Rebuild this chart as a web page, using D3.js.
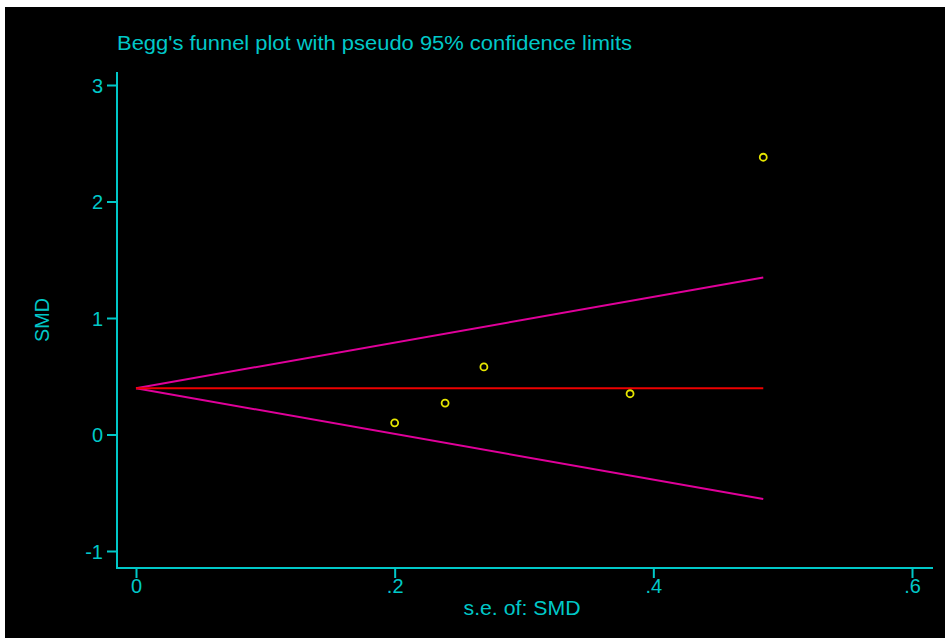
<!DOCTYPE html>
<html>
<head>
<meta charset="utf-8">
<script src="https://cdn.jsdelivr.net/npm/d3@7"></script>
<style>
  body { margin: 0; background: #fff; }
  text { font-family: "Liberation Sans", Arial, sans-serif; }
</style>
</head>
<body>
<div id="chart"></div>
<script>
// study estimates
const seValues = [0.200, 0.239, 0.269, 0.382, 0.485];
const smdValues = [0.10, 0.27, 0.58, 0.35, 2.38];

// pooled estimate and pseudo 95% limits at the two ends of the funnel
const funnelSe = [0, 0.485];
const pooledLine = [0.397, 0.397];
const upperLimit = [0.397, 1.348];
const lowerLimit = [0.397, -0.554];

const xTicks = [0, 0.2, 0.4, 0.6];
const yTicks = [-1, 0, 1, 2, 3];

const W = 945, H = 638;
const cyan = "#00c8c8";

const svg = d3.select("#chart").append("svg")
  .attr("width", W)
  .attr("height", H);

// black plot region, small white border top/left
svg.append("rect")
  .attr("x", 5).attr("y", 7)
  .attr("width", W - 5).attr("height", H - 7)
  .attr("fill", "#000");

const x = d3.scaleLinear().domain([0, 0.6]).range([136, 912]);
const y = d3.scaleLinear().domain([-1, 3]).range([551, 85]);

// axes
const xaxis = svg.append("g")
  .attr("transform", "translate(0,568)")
  .call(d3.axisBottom(x).tickValues(xTicks).tickSize(10).tickSizeOuter(0)
    .tickFormat(d => d === 0 ? "0" : d3.format(".1f")(d).replace(/^0/, "")));
xaxis.select(".domain").remove();
svg.append("line")
  .attr("x1", 117).attr("x2", 933)
  .attr("y1", 568).attr("y2", 568)
  .attr("stroke", cyan).attr("stroke-width", 2);

const yaxis = svg.append("g")
  .attr("transform", "translate(117,0)")
  .call(d3.axisLeft(y).tickValues(yTicks).tickSize(10).tickSizeOuter(0)
    .tickFormat(d => String(d)));
yaxis.select(".domain").remove();
svg.append("line")
  .attr("x1", 117).attr("x2", 117)
  .attr("y1", 72).attr("y2", 569)
  .attr("stroke", cyan).attr("stroke-width", 2);

svg.selectAll(".tick line").attr("stroke", cyan).attr("stroke-width", 2);
svg.selectAll(".tick text")
  .attr("fill", cyan)
  .attr("font-size", 20)
  .attr("font-family", "Liberation Sans, Arial, sans-serif");
yaxis.selectAll(".tick text").attr("x", -14).attr("dy", "0.36em");
xaxis.selectAll(".tick text").attr("y", 11);

// titles
svg.append("text")
  .attr("x", 117).attr("y", 50)
  .attr("fill", cyan)
  .attr("font-size", 20)
  .attr("textLength", 515)
  .attr("lengthAdjust", "spacingAndGlyphs")
  .text("Begg's funnel plot with pseudo 95% confidence limits");

svg.append("text")
  .attr("x", 522).attr("y", 615)
  .attr("text-anchor", "middle")
  .attr("fill", cyan)
  .attr("font-size", 20)
  .attr("textLength", 117)
  .attr("lengthAdjust", "spacingAndGlyphs")
  .text("s.e. of: SMD");

svg.append("text")
  .attr("transform", "translate(49,320) rotate(-90)")
  .attr("text-anchor", "middle")
  .attr("fill", cyan)
  .attr("font-size", 20)
  .attr("textLength", 44)
  .attr("lengthAdjust", "spacingAndGlyphs")
  .text("SMD");

// funnel lines
const line = d3.line().x(d => x(d[0])).y(d => y(d[1]));
[upperLimit, lowerLimit].forEach(lim => {
  svg.append("path")
    .datum(d3.zip(funnelSe, lim))
    .attr("d", line)
    .attr("fill", "none")
    .attr("stroke", "#e0009a")
    .attr("stroke-width", 2);
});
svg.append("path")
  .datum(d3.zip(funnelSe, pooledLine))
  .attr("d", line)
  .attr("fill", "none")
  .attr("stroke", "#ee0000")
  .attr("stroke-width", 2);

// study points
svg.selectAll("circle.study")
  .data(d3.zip(seValues, smdValues))
  .join("circle")
  .attr("class", "study")
  .attr("cx", d => x(d[0]))
  .attr("cy", d => y(d[1]))
  .attr("r", 3.5)
  .attr("fill", "none")
  .attr("stroke", "#e6e600")
  .attr("stroke-width", 1.8);
</script>
</body>
</html>
